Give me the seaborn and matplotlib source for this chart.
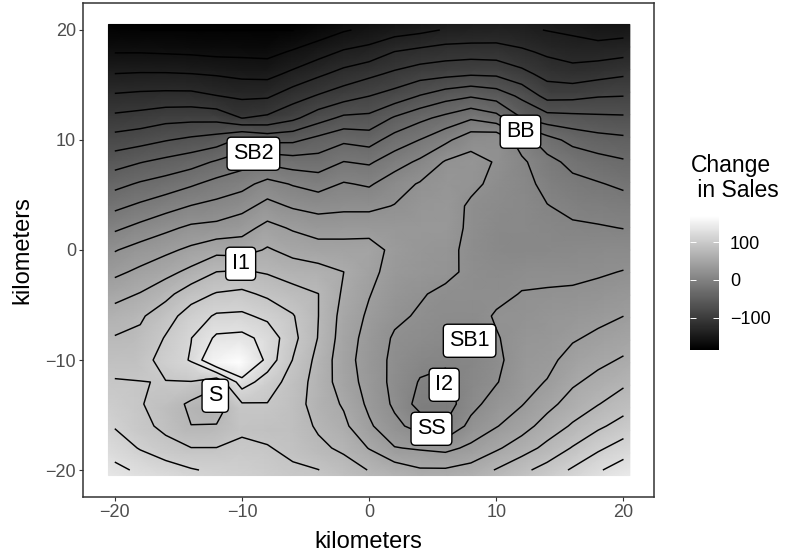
import numpy as np
import seaborn as sns
import matplotlib
matplotlib.use('Agg')
import matplotlib.pyplot as plt
from matplotlib.colors import LinearSegmentedColormap
from matplotlib.transforms import Affine2D

sns.set_theme(style='white')
plt.rcParams['font.family'] = ['Liberation Sans', 'DejaVu Sans']

# change in sales. one list per x, from y=20 down to y=-20
x_km = [-20, -18, -16, -14, -12, -10, -8, -6, -4, -2, 0, 2, 4, 6, 8, 10, 12, 14, 16, 18, 20]
y_km = [20, 18, 16, 14, 12, 10, 8, 6, 4, 2, 0, -2, -4, -6, -8, -10, -12, -14, -16, -18, -20]
at_m20 = [-184, -168, -148, -127, -106, -84, -62, -41, -21, -1, 20, 36, 52, 68, 79, 89, 98, 106, 114, 126, 139]
at_m18 = [-186, -168, -147, -125, -103, -80, -55, -33, -13, 8, 29, 44, 60, 75, 82, 89, 97, 98, 102, 114, 131]
at_m16 = [-186, -169, -147, -124, -98, -74, -49, -27, -5, 17, 36, 53, 72, 89, 98, 104, 96, 88, 92, 103, 125]
at_m14 = [-186, -170, -148, -124, -97, -69, -43, -19, 3, 25, 44, 64, 89, 105, 115, 117, 96, 74, 78, 97, 117]
at_m12 = [-186, -172, -150, -129, -98, -64, -33, -10, 8, 27, 53, 78, 98, 118, 138, 158, 83, 65, 79, 97, 112]
at_m10 = [-186, -172, -153, -133, -111, -50, -24, -4, 15, 33, 51, 80, 101, 119, 140, 172, 125, 95, 91, 102, 108]
at_m8 = [-186, -173, -154, -132, -107, -59, -21, 9, 27, 46, 61, 76, 93, 111, 128, 127, 106, 96, 89, 98, 104]
at_m6 = [-186, -165, -144, -119, -96, -58, -26, 1, 19, 38, 53, 69, 85, 98, 102, 96, 89, 87, 88, 91, 100]
at_m4 = [-178, -156, -133, -109, -81, -48, -27, -5, 15, 32, 48, 66, 78, 78, 77, 72, 70, 69, 75, 82, 97]
at_m2 = [-169, -146, -123, -100, -69, -39, -16, 4, 17, 33, 47, 59, 56, 52, 50, 48, 50, 57, 63, 74, 87]
at_0 = [-163, -141, -115, -92, -68, -43, -19, 0, 17, 33, 48, 45, 41, 37, 33, 31, 33, 36, 43, 58, 77]
at_2 = [-157, -129, -107, -84, -52, -27, -6, 13, 22, 31, 35, 33, 29, 25, 19, 17, 16, 18, 26, 41, 69]
at_4 = [-153, -124, -100, -72, -40, -16, 6, 23, 28, 31, 30, 29, 23, 19, 14, 8, 1, -5, 14, 38, 61]
at_6 = [-147, -120, -97, -62, -30, -2, 23, 29, 31, 31, 27, 26, 17, 14, 10, 5, -2, -7, 4, 35, 61]
at_8 = [-145, -119, -94, -56, -19, 15, 27, 26, 18, 17, 16, 17, 17, 14, 6, 8, 10, 15, 27, 44, 66]
at_10 = [-143, -120, -95, -62, -28, 19, 20, 16, 13, 11, 10, 15, 17, 23, 20, 17, 20, 30, 39, 56, 79]
at_12 = [-145, -126, -105, -77, -54, -7, 6, 9, 10, 10, 9, 17, 22, 25, 28, 31, 34, 39, 51, 69, 92]
at_14 = [-149, -133, -117, -98, -65, -28, -10, -3, 3, 8, 10, 17, 23, 28, 32, 35, 41, 53, 67, 83, 104]
at_16 = [-152, -138, -121, -97, -67, -41, -22, -11, -2, 5, 12, 17, 24, 31, 38, 47, 56, 67, 80, 98, 118]
at_18 = [-158, -138, -117, -93, -69, -47, -28, -15, -5, 4, 13, 19, 27, 35, 44, 54, 65, 77, 93, 112, 132]
at_20 = [-156, -135, -113, -92, -70, -50, -33, -20, -8, 2, 13, 22, 32, 40, 50, 61, 74, 88, 104, 124, 144]

# stores
names = ['SB2', 'BB', 'I1', 'SB1', 'I2', 'SS', 'S']
store_x = [-9, 12, -10, 8, 6, 5, -12]
store_y = [10, 12, 0, -7, -11, -15, -12]

low, high = -186, 172
cbar_ticks = [100, 0, -100]

# black to white, close to even steps in lightness
greys = LinearSegmentedColormap.from_list('greys_l', ['#000000', '#3f3f3f', '#7c7c7c', '#bcbcbc', '#ffffff'])

columns = [at_m20, at_m18, at_m16, at_m14, at_m12, at_m10, at_m8, at_m6, at_m4, at_m2, at_0,
           at_2, at_4, at_6, at_8, at_10, at_12, at_14, at_16, at_18, at_20]
sales = np.array(columns).T[::-1]

W, H = 785, 556
fig = plt.figure(figsize=(W / 100, H / 100), dpi=100)
ax = fig.add_axes([83 / W, 1 - 497 / H, (654 - 83) / W, (497 - 3) / H])

sns.heatmap(sales, cmap=greys, vmin=low, vmax=high, cbar=False, shading='gouraud',
            xticklabels=False, yticklabels=False, ax=ax)
# heatmap works in cell numbers, stretch it to km (raster runs half a km past the grid)
ax.collections[0].set_transform(Affine2D().scale(2.05).translate(-20.5, -20.5) + ax.transData)

ax.contour(x_km, y_km[::-1], sales, levels=np.arange(low, 140, 18.84),
           colors='black', linewidths=1.05, linestyles='solid')

sns.scatterplot(x=store_x, y=store_y, color='black', s=12, linewidth=0, ax=ax, zorder=4)
for n, sx, sy in zip(names, store_x, store_y):
    ax.text(sx - 0.1, sy - 1.25, n, ha='center', va='center', fontsize=15.5, color='black', zorder=5,
            bbox=dict(boxstyle='round,pad=0.28,rounding_size=0.2', fc='white', ec='black', lw=1.0))

ax.set_xlim(-22.5, 22.4)
ax.set_ylim(-22.45, 22.45)
ticks = [-20, -10, 0, 10, 20]
ax.set_xticks(ticks)
ax.set_yticks(ticks)
ax.set_xticklabels(['\u221220', '\u221210', '0', '10', '20'])
ax.set_yticklabels(['\u221220', '\u221210', '0', '10', '20'], rotation=0)
ax.tick_params(axis='both', length=3, width=0.8, color='#333333', labelcolor='#4d4d4d',
               labelsize=13, pad=2, bottom=True, left=True, labelbottom=True, labelleft=True)
ax.set_xlabel('kilometers', fontsize=17, color='black')
ax.set_ylabel('kilometers', fontsize=17, color='black')
ax.xaxis.label.set_visible(True)
ax.yaxis.label.set_visible(True)
ax.xaxis.set_label_coords(0.5, -0.069)
ax.yaxis.set_label_coords(-0.0876, 0.5)
for s in ax.spines.values():
    s.set_visible(True)
    s.set_color('#333333')
    s.set_linewidth(1.1)

# colour bar
cax = fig.add_axes([690 / W, 1 - 350 / H, 29 / W, 135 / H])
bar = np.linspace(low, high, 135).reshape(-1, 1)
sns.heatmap(bar, cmap=greys, vmin=low, vmax=high, cbar=False, xticklabels=False, yticklabels=False, ax=cax)
cax.set_ylim(0, 135)
pos = [(v - low) / (high - low) * 135 for v in cbar_ticks]
cax.hlines(pos, 0, 0.2, color='white', lw=0.7)
cax.hlines(pos, 0.8, 1, color='white', lw=0.7)
cax.yaxis.tick_right()
cax.set_yticks(pos)
cax.set_yticklabels(['100', '0', '\u2212100'], rotation=0)
cax.tick_params(axis='y', length=0, labelsize=13, pad=8, labelcolor='black', right=False, labelright=True)
fig.text(691 / W, 1 - 172 / H, 'Change', fontsize=16.5, va='baseline', color='black')
fig.text(691 / W, 1 - 197 / H, ' in Sales', fontsize=16.5, va='baseline', color='black')

fig.savefig('out.png', dpi=100)
